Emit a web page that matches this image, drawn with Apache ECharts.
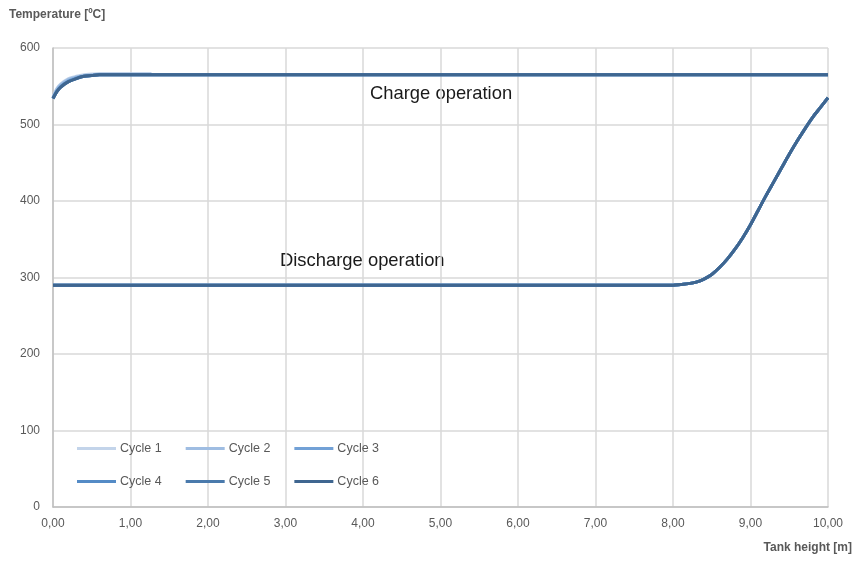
<!DOCTYPE html>
<html>
<head>
<meta charset="utf-8">
<script src="https://cdn.jsdelivr.net/npm/echarts@6/dist/echarts.min.js"></script>
<style>
html,body{margin:0;padding:0;background:#fff;}
#chart{width:855px;height:563px;}
</style>
</head>
<body>
<div id="chart"></div>
<script>
var cycleNames = ['Cycle 1','Cycle 2','Cycle 3','Cycle 4','Cycle 5','Cycle 6'];
var cycleColors = ['#c3d4ea','#9fbde2','#72a1d6','#548bc6','#4a7aac','#3f6690'];

// Charge operation: tank height [m] and temperature [ºC]
var chargeHeightShort = [0,0.05,0.1,0.2,0.3,0.4,0.5,0.6,0.7,0.8,1.0,1.27];
var chargeHeightFull = [0,0.05,0.1,0.2,0.3,0.4,0.5,0.6,0.7,0.8,1.0,1.27,2,3,4,5,6,7,8,9,10];
var chargeCycle1 = [536,547,553,560,563,565,566,566,566,566,566,566];
var chargeCycle2 = [535,546,552,559,562,564,565,566,566,566,566,566];
var chargeCycle3 = [534,544,550,557,561,563,564,565,565,565,565,565,565,565,565,565,565,565,565,565,565];
var chargeCycle4 = [534,543,549,556,560,563,564,565,565,565,565,565,565,565,565,565,565,565,565,565,565];
var chargeCycle5 = [534,543,549,556,560,563,564,565,565,565,565,565,565,565,565,565,565,565,565,565,565];
var chargeCycle6 = [534,543,549,556,560,563,564,565,565,565,565,565,565,565,565,565,565,565,565,565,565];

// Discharge operation
var dischargeHeight = [0,1,2,3,4,5,6,7,7.6,7.9,8.0,8.1,8.2,8.3,8.4,8.5,8.6,8.7,8.8,8.9,9.0,9.1,9.2,9.3,9.4,9.5,9.6,9.7,9.8,9.9,10];
var dischargeCycle1 = [290,290,290,290,290,290,290,290,290,290,290,291,292,294,298,304,313,324,337,352,369,388,407,425,443,461,478,494,509,522,535];
var dischargeCycle2 = [290,290,290,290,290,290,290,290,290,290,290,291,292,294,298,304,313,324,337,352,369,388,407,425,443,461,478,494,509,522,535];
var dischargeCycle3 = [290,290,290,290,290,290,290,290,290,290,290,291,292,294,298,304,313,324,337,352,369,388,407,425,443,461,478,494,509,522,535];
var dischargeCycle4 = [290,290,290,290,290,290,290,290,290,290,290,291,292,294,298,304,313,324,337,352,369,388,407,425,443,461,478,494,509,522,535];
var dischargeCycle5 = [290,290,290,290,290,290,290,290,290,290,290,291,292,294,298,304,313,324,337,352,369,388,407,425,443,461,478,494,509,522,535];
var dischargeCycle6 = [290,290,290,290,290,290,290,290,290,290,290,291,292,294,298,304,313,324,337,352,369,388,407,425,443,461,478,494,509,522,535];

var xTicks = ['0,00','1,00','2,00','3,00','4,00','5,00','6,00','7,00','8,00','9,00','10,00'];

var chargeData = [
  [chargeHeightShort, chargeCycle1],
  [chargeHeightShort, chargeCycle2],
  [chargeHeightFull, chargeCycle3],
  [chargeHeightFull, chargeCycle4],
  [chargeHeightFull, chargeCycle5],
  [chargeHeightFull, chargeCycle6]
];
var dischargeData = [dischargeCycle1,dischargeCycle2,dischargeCycle3,dischargeCycle4,dischargeCycle5,dischargeCycle6];

function zip(xs, ys){ return xs.map(function(x,i){ return [x, ys[i]]; }); }

var series = [];
for (var i = 0; i < 6; i++) {
  var base = {
    name: cycleNames[i], type: 'line', showSymbol: false, symbol: 'none',
    smooth: 0.3,
    lineStyle: {width: 3, color: cycleColors[i]},
    itemStyle: {color: cycleColors[i]},
    z: 2 + i, silent: true
  };
  series.push(Object.assign({}, base, {data: zip(chargeData[i][0], chargeData[i][1])}));
  series.push(Object.assign({}, base, {data: zip(dischargeHeight, dischargeData[i])}));
}

var labelColor = '#595959';
var legendCommon = {
  icon: 'rect', itemWidth: 39, itemHeight: 3, itemGap: 24,
  textStyle: {color: labelColor, fontSize: 12.5, fontFamily: 'Liberation Sans', padding: [0,0,0,-1]},
  selectedMode: false, orient: 'horizontal'
};

var chart = echarts.init(document.getElementById('chart'), null, {renderer: 'canvas'});
chart.setOption({
  animation: false,
  backgroundColor: '#fff',
  grid: {left: 53, right: 27, top: 48, bottom: 56, containLabel: false},
  legend: [
    Object.assign({}, legendCommon, {data: cycleNames.slice(0,3), left: 72, top: 437}),
    Object.assign({}, legendCommon, {data: cycleNames.slice(3,6), left: 72, top: 470})
  ],
  xAxis: {
    type: 'value', min: 0, max: 10, interval: 1,
    axisLine: {show: true, lineStyle: {color: '#bfbfbf', width: 1.5}},
    axisTick: {show: false},
    splitLine: {show: true, lineStyle: {color: '#d9d9d9', width: 1.5}},
    axisLabel: {color: labelColor, fontSize: 12, fontFamily: 'Liberation Sans', margin: 11,
      formatter: function(v){ return xTicks[Math.round(v)]; }}
  },
  yAxis: {
    type: 'value', min: 0, max: 600, interval: 100,
    axisLine: {show: true, lineStyle: {color: '#bfbfbf', width: 1.5}},
    axisTick: {show: false},
    splitLine: {show: true, lineStyle: {color: '#d9d9d9', width: 1.5}},
    axisLabel: {color: labelColor, fontSize: 12, fontFamily: 'Liberation Sans', margin: 13}
  },
  graphic: [
    {type: 'text', left: 9, top: 9, style: {text: 'Temperature [ºC]', fill: labelColor, font: 'bold 12px "Liberation Sans"'}},
    {type: 'text', right: 3, top: 542, style: {text: 'Tank height [m]', fill: labelColor, font: 'bold 12px "Liberation Sans"'}},
    {type: 'text', left: 370, top: 85, style: {text: 'Charge operation', fill: '#1a1a1a', font: '18.4px "Liberation Sans"'}},
    {type: 'text', left: 280, top: 252, style: {text: 'Discharge operation', fill: '#1a1a1a', font: '18.4px "Liberation Sans"'}}
  ],
  series: series
});
</script>
</body>
</html>
